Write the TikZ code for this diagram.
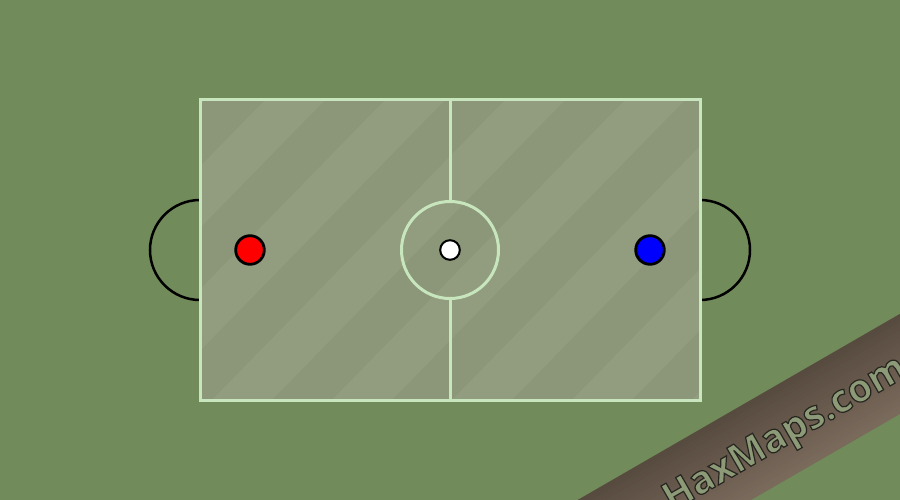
\documentclass[tikz,border=0pt]{standalone}
\usepackage{fontspec}
\newfontfamily\haxfont{Open Sans}
\definecolor{bg}{HTML}{718B5A}
\definecolor{fielddark}{HTML}{8C9679}
\definecolor{fieldlight}{HTML}{929D7F}
\definecolor{fieldline}{HTML}{C7E6BE}
\definecolor{bannerdark}{HTML}{574A3F}
\definecolor{bannerlight}{HTML}{7A6A5C}
\definecolor{haxtext}{HTML}{8C9A78}
\newcommand\outlinedtext[1]{\special{pdf:literal direct 2 Tr 1.2 w 0.15 0.15 0.12 RG}#1\special{pdf:literal direct 0 Tr}}
\begin{document}
\begin{tikzpicture}[x=1pt,y=-1pt,
  ball/.style={circle, draw=black, inner sep=0pt, outer sep=0pt},
  player/.style={ball, line width=2.8pt, minimum size=28.6pt},
  puck/.style={ball, line width=2pt, fill=white, minimum size=19.6pt},
  markline/.style={draw=fieldline, line width=3pt},
  goalarc/.style={draw=black, line width=2.5pt},
  fieldbox/.style={rectangle, inner sep=0pt, outer sep=0pt, fill=fielddark, minimum width=500pt, minimum height=300pt},
]
\useasboundingbox (0,0) rectangle (900,500);
\clip (0,0) rectangle (900,500);
\fill[bg] (0,0) rectangle (900,500);
% goals
\coordinate (lgt) at (200,200);
\coordinate (rgt) at (700,200);
\draw[goalarc] (lgt) arc[start angle=-90, end angle=-270, radius=50];
\draw[goalarc] (rgt) arc[start angle=-90, end angle=90, radius=50];
% field
\node[fieldbox] (field) at (450,250) {};
\begin{scope}
  \clip (field.north west) rectangle (field.south east);
  \foreach \m in {-1,...,6} {
    \fill[fieldlight] ({265+120*\m},100) -- ({325+120*\m},100) -- ({32+120*\m},400) -- ({-28+120*\m},400) -- cycle;
  }
\end{scope}
\node[circle, markline, inner sep=0pt, outer sep=0pt, minimum size=97pt] (cc) at (450,250) {};
\draw[markline] (field.north) -- (cc.north);
\draw[markline] (cc.south) -- (field.south);
\draw[markline] (field.north west) rectangle (field.south east);
% discs
\node[player, fill=red] (red) at (250,250) {};
\node[player, fill=blue] (blue) at (650,250) {};
\node[puck] (ball) at (450,250) {};
% banner
\begin{scope}[shift={(900,363.5)}, rotate=30]
  \foreach \i in {0,...,23} {
    \pgfmathsetmacro\p{100*\i/23}
    \fill[bannerlight!\p!bannerdark] (-520,{-43+3.6*\i}) rectangle (300,{-43+3.6*(\i+1)+0.3});
  }
  \node[rotate=30, anchor=base west, inner sep=0pt, text=haxtext, font=\haxfont\bfseries\fontsize{39}{39}\selectfont] (hax) at (-272,14.5) {\outlinedtext{HaxMaps.com}};
\end{scope}
\end{tikzpicture}
\end{document}
